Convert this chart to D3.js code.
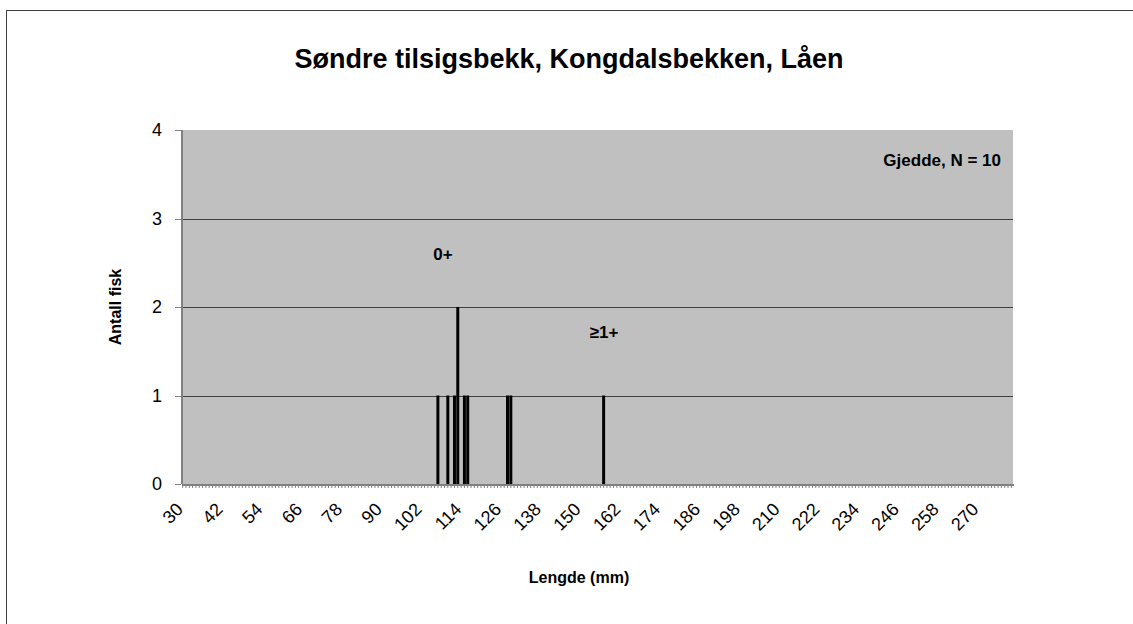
<!DOCTYPE html>
<html lang="no">
<head>
<meta charset="utf-8">
<title>Søndre tilsigsbekk, Kongdalsbekken, Låen</title>
<style>
  body { margin: 0; background: white; }
  svg { display: block; font-family: "Liberation Sans", Arial, sans-serif; }
  .axis path, .axis line { fill: none; stroke: #808080; shape-rendering: crispEdges; }
  .axis text { font-size: 18px; fill: black; }
</style>
</head>
<body>
<script src="https://d3js.org/d3.v7.min.js"></script>
<script>
// lengde-kategorier (mm), en per millimeter
var categories = d3.range(30, 281);
// lengder med fisk og antall
var lengths = [107, 110, 112, 113, 115, 116, 128, 129, 157];
var counts  = [1, 1, 1, 2, 1, 1, 1, 1, 1];
var xTickLabels = [30, 42, 54, 66, 78, 90, 102, 114, 126, 138, 150, 162, 174, 186, 198, 210, 222, 234, 246, 258, 270];
var yTicks = [0, 1, 2, 3, 4];

var width = 1133, height = 624;
var pLeft = 181, pRight = 1013, pTop = 130, pBottom = 484;

var svg = d3.select("body").append("svg")
    .attr("width", width)
    .attr("height", height);

// chart border
svg.append("rect")
    .attr("x", 6.5).attr("y", 10.5)
    .attr("width", width + 10).attr("height", height + 10)
    .attr("fill", "white")
    .attr("stroke", "#404040");

var xScale = d3.scaleBand()
    .domain(categories)
    .range([pLeft, pRight])
    .paddingInner(0.1)
    .paddingOuter(0.05);

var yScale = d3.scaleLinear()
    .domain([0, 4])
    .range([pBottom, pTop]);

// plot area
svg.append("rect")
    .attr("x", pLeft).attr("y", pTop)
    .attr("width", pRight - pLeft).attr("height", pBottom - pTop)
    .attr("fill", "#c0c0c0");

// gridlines
svg.selectAll(".grid")
    .data(yTicks.slice(1, 4))
    .enter().append("line")
    .attr("class", "grid")
    .attr("x1", pLeft).attr("x2", pRight)
    .attr("y1", function(d) { return Math.round(yScale(d)) + 0.5; })
    .attr("y2", function(d) { return Math.round(yScale(d)) + 0.5; })
    .attr("stroke", "#404040");

// bars
var data = lengths.map(function(l, i) { return { len: l, n: counts[i] }; });
svg.selectAll(".bar")
    .data(data)
    .enter().append("rect")
    .attr("class", "bar")
    .attr("x", function(d) { return xScale(d.len); })
    .attr("width", xScale.bandwidth())
    .attr("y", function(d) { return yScale(d.n); })
    .attr("height", function(d) { return pBottom - yScale(d.n); })
    .attr("fill", "black");

// y axis
var yAxis = d3.axisLeft(yScale).tickValues(yTicks).tickSize(6).tickPadding(13).tickFormat(d3.format("d"));
svg.append("g")
    .attr("class", "axis")
    .attr("transform", "translate(" + pLeft + ",0)")
    .call(yAxis)
    .call(function(g) { g.select(".domain").attr("d", "M0.5," + pTop + "V" + pBottom).attr("stroke-width", 2); });

// x axis: tick per category, labels every 12
var xAxis = d3.axisBottom(xScale).tickSize(4).tickSizeOuter(0)
    .tickFormat(function(d) { return xTickLabels.indexOf(d) >= 0 ? d : ""; });
var gx = svg.append("g")
    .attr("class", "axis")
    .attr("transform", "translate(0," + pBottom + ")")
    .call(xAxis);
gx.selectAll(".tick line").attr("stroke", "black").style("shape-rendering", "auto");
gx.select(".domain").attr("stroke", "#808080").attr("stroke-width", 2);
gx.selectAll(".tick text")
    .attr("text-anchor", "end")
    .attr("x", 0).attr("y", 0)
    .attr("dy", "0.35em")
    .attr("transform", "translate(-3,22) rotate(-45)");

// title
svg.append("text")
    .attr("x", 569).attr("y", 68)
    .attr("text-anchor", "middle")
    .attr("font-size", "27px").attr("font-weight", "bold")
    .text("Søndre tilsigsbekk, Kongdalsbekken, Låen");

svg.append("text")
    .attr("x", 1001).attr("y", 166)
    .attr("text-anchor", "end")
    .attr("font-size", "17px").attr("font-weight", "bold")
    .text("Gjedde, N = 10");

svg.append("text")
    .attr("x", 443).attr("y", 260)
    .attr("text-anchor", "middle")
    .attr("font-size", "17px").attr("font-weight", "bold")
    .text("0+");

svg.append("text")
    .attr("x", 604).attr("y", 338)
    .attr("text-anchor", "middle")
    .attr("font-size", "17px").attr("font-weight", "bold")
    .text("≥1+");

svg.append("text")
    .attr("transform", "translate(121," + ((pTop + pBottom) / 2) + ") rotate(-90)")
    .attr("text-anchor", "middle")
    .attr("font-size", "16px").attr("font-weight", "bold")
    .text("Antall fisk");

svg.append("text")
    .attr("x", 579).attr("y", 583)
    .attr("text-anchor", "middle")
    .attr("font-size", "16px").attr("font-weight", "bold")
    .text("Lengde (mm)");
</script>
</body>
</html>
